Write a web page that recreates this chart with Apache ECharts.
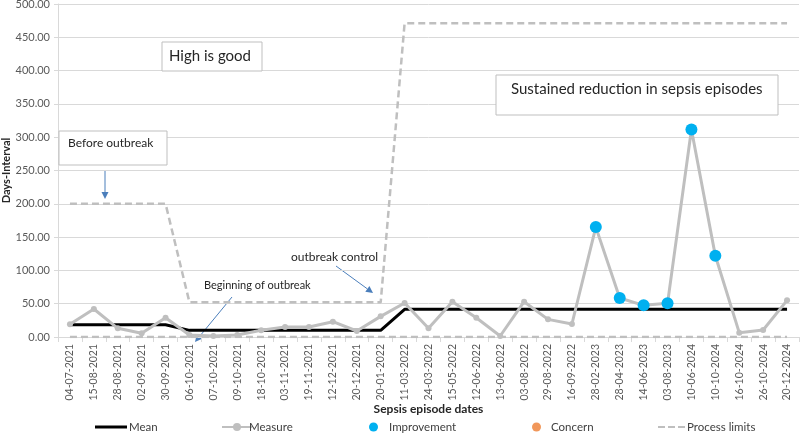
<!DOCTYPE html>
<html>
<head>
<meta charset="utf-8">
<script src="https://cdn.jsdelivr.net/npm/echarts@6/dist/echarts.min.js"></script>
<style>
  html, body { margin: 0; padding: 0; background: #fff; }
  #chart { width: 800px; height: 443px; }
</style>
</head>
<body>
<div id="chart"></div>
<script>
// sepsis episode dates
const dates = ['04-07-2021','15-08-2021','28-08-2021','02-09-2021','30-09-2021','06-10-2021','07-10-2021',
  '09-10-2021','18-10-2021','03-11-2021','19-11-2021','12-12-2021','20-12-2021','20-01-2022','11-03-2022',
  '24-03-2022','15-05-2022','12-06-2022','13-06-2022','03-08-2022','29-08-2022','16-09-2022','28-02-2023',
  '28-04-2023','14-06-2023','03-08-2023','10-06-2024','10-10-2024','16-10-2024','26-10-2024','20-12-2024']

// days between episodes
const measure = [19, 42, 13, 5.5, 29, 3, 1.5, 3, 10, 15, 15, 23, 9, 31, 51,
  13, 53, 29, 1.5, 53, 26.5, 19.5, 165, 58.5, 47.5, 50.5, 311.5, 122, 6.5, 10.5, 55]

const mean = [18.5, 18.5, 18.5, 18.5, 18.5, 10, 10, 10, 10, 10, 10, 10, 10, 10,
  41.5, 41.5, 41.5, 41.5, 41.5, 41.5, 41.5, 41.5, 41.5, 41.5, 41.5, 41.5, 41.5, 41.5, 41.5, 41.5, 41.5]

const upperLimit = [200, 200, 200, 200, 200, 52, 52, 52, 52, 52, 52, 52, 52, 52,
  471, 471, 471, 471, 471, 471, 471, 471, 471, 471, 471, 471, 471, 471, 471, 471, 471]
const lowerLimit = dates.map(() => 0)

// episodes flagged as improvement
const improvementIdx = [22, 23, 24, 25, 26, 27]
const improvement = measure.map((v, i) => improvementIdx.includes(i) ? v : '-')
const concern = dates.map(() => '-')

const yTicks = [0, 50, 100, 150, 200, 250, 300, 350, 400, 450, 500]

const font = 'Lato, "Open Sans", sans-serif'
const arrowColor = '#4a7ebb'

function arrow(x1, y1, x2, y2) {
  const a = Math.atan2(y2 - y1, x2 - x1)
  const L = 7, W = 3.5
  const bx = x2 - L * Math.cos(a), by = y2 - L * Math.sin(a)
  return [
    { type: 'line', shape: { x1, y1, x2: bx, y2: by }, style: { stroke: arrowColor, lineWidth: 1 } },
    { type: 'polygon', shape: { points: [[x2, y2],
        [bx - W * Math.sin(a), by + W * Math.cos(a)],
        [bx + W * Math.sin(a), by - W * Math.cos(a)]] },
      style: { fill: arrowColor } }
  ]
}

function box(x, y, w, h, text, tx, ty, size) {
  return [
    { type: 'rect', shape: { x, y, width: w, height: h }, style: { fill: '#fff', stroke: '#bfbfbf', lineWidth: 1 }, z: 10 },
    { type: 'text', x: tx, y: ty, style: { text, font: size + 'px ' + font, fill: '#262626', textVerticalAlign: 'middle' }, z: 11 }
  ]
}

const legendText = pad => ({ fontFamily: font, fontSize: 11.5, color: '#404040', padding: [0, 0, 0, pad] })
const dashIcon = 'path://M0,0h7v2h-7zM10,0h7v2h-7zM20,0h7v2h-7z'

const chart = echarts.init(document.getElementById('chart'))
chart.setOption({
  animation: false,
  grid: { left: 58, right: 1, top: 4, bottom: 106, containLabel: false, outerBoundsMode: 'none' },
  legend: [
    { data: [{ name: 'Mean', icon: 'rect' }], left: 90, top: 416, itemWidth: 32, itemHeight: 3, textStyle: legendText(-3) },
    { data: ['Measure'], left: 216, top: 416, itemWidth: 30, itemHeight: 10, textStyle: legendText(-8) },
    { data: ['Improvement'], left: 364, top: 416, itemWidth: 9, itemHeight: 9, textStyle: legendText(6) },
    { data: ['Concern'], left: 527, top: 416, itemWidth: 9, itemHeight: 9, textStyle: legendText(5) },
    { data: [{ name: 'Process limits', icon: dashIcon }], left: 653, top: 416, itemWidth: 27, itemHeight: 2, textStyle: legendText(-3) }
  ],
  xAxis: {
    type: 'category',
    data: dates,
    name: 'Sepsis episode dates',
    nameLocation: 'middle',
    nameGap: 66,
    nameMoveOverlap: false,
    nameTextStyle: { fontFamily: font, fontSize: 12, fontWeight: 'bold', color: '#262626' },
    axisLine: { lineStyle: { color: '#d9d9d9' } },
    axisTick: { show: true, length: 5, lineStyle: { color: '#d9d9d9' } },
    axisLabel: { rotate: 90, fontFamily: font, fontSize: 10.5, color: '#595959', margin: 7 }
  },
  yAxis: {
    type: 'value',
    min: 0,
    max: 500,
    interval: 50,
    name: 'Days-Interval',
    nameLocation: 'middle',
    nameGap: 46,
    nameMoveOverlap: false,
    nameTextStyle: { fontFamily: font, fontSize: 11, fontWeight: 'bold', color: '#262626' },
    axisLine: { show: true, lineStyle: { color: '#d9d9d9' } },
    axisTick: { show: true, length: 4, lineStyle: { color: '#d9d9d9' } },
    axisLabel: { fontFamily: font, fontSize: 11, color: '#595959', margin: 8,
      formatter: v => yTicks.includes(v) ? v.toFixed(2) : '' },
    splitLine: { lineStyle: { color: '#d9d9d9' } }
  },
  series: [
    { name: 'Process limits', type: 'line', data: upperLimit, symbol: 'none',
      lineStyle: { color: '#bfbfbf', width: 2.5, type: [7, 4] }, itemStyle: { color: '#bfbfbf' }, z: 2 },
    { name: 'Process limits', type: 'line', data: lowerLimit, symbol: 'none',
      lineStyle: { color: '#bfbfbf', width: 2.5, type: [7, 4] }, itemStyle: { color: '#bfbfbf' }, z: 2 },
    { name: 'Mean', type: 'line', data: mean, symbol: 'none',
      lineStyle: { color: '#000', width: 3 }, itemStyle: { color: '#000' }, z: 3 },
    { name: 'Measure', type: 'line', data: measure, symbol: 'circle', symbolSize: 6,
      lineStyle: { color: '#bfbfbf', width: 3 }, itemStyle: { color: '#bfbfbf' }, z: 4 },
    { name: 'Improvement', type: 'scatter', data: improvement, symbolSize: 12,
      itemStyle: { color: '#00b0f0', opacity: 1 }, z: 5 },
    { name: 'Concern', type: 'scatter', data: concern, symbolSize: 12,
      itemStyle: { color: '#ed7d31' }, z: 5 }
  ],
  graphic: [].concat(
    box(162, 42, 100, 29, 'High is good', 169, 56, 15),
    box(496, 75, 282, 40, 'Sustained reduction in sepsis episodes', 511, 89, 15),
    box(59, 131, 108, 34, 'Before outbreak', 68, 143, 12),
    arrow(105, 171, 105, 199),
    [{ type: 'text', x: 204, y: 285, style: { text: 'Beginning of outbreak', font: '11px ' + font, fill: '#262626', textVerticalAlign: 'middle' } }],
    arrow(232, 297, 195, 342),
    [{ type: 'text', x: 291, y: 257, style: { text: 'outbreak control', font: '12px ' + font, fill: '#262626', textVerticalAlign: 'middle' } }],
    arrow(336, 266, 373, 293)
  )
})
window.addEventListener('resize', () => chart.resize())
</script>
</body>
</html>
